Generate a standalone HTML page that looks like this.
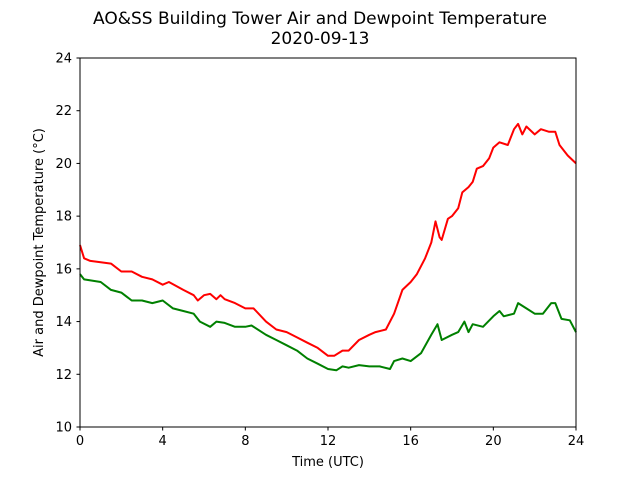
<!DOCTYPE html>
<html><head><meta charset="utf-8"><style>
body{margin:0;background:#fff;}
svg{display:block;font-family:"DejaVu Sans","Liberation Sans",sans-serif;}
</style></head><body>
<svg id="chart" width="640" height="480" viewBox="0 0 640 480" xmlns="http://www.w3.org/2000/svg">
<text x="320" y="24" font-size="17" text-anchor="middle">AO&amp;SS Building Tower Air and Dewpoint Temperature</text>
<text x="320" y="44" font-size="17" text-anchor="middle">2020-09-13</text>
<g id="ticks"></g>
<g id="series"></g>
<rect x="80" y="58" width="496" height="369" fill="none" stroke="#000" stroke-width="1"/>
<text x="328" y="466" font-size="13" text-anchor="middle">Time (UTC)</text>
<text transform="translate(43,242.5) rotate(-90)" font-size="13" text-anchor="middle">Air and Dewpoint Temperature (°C)</text>
</svg>
<script>
const xTicks=[0,4,8,12,16,20,24];
const yTicks=[10,12,14,16,18,20,22,24];
const airTimes=[0,0.2,0.5,1,1.5,2,2.5,3,3.5,4,4.3,5,5.5,5.7,6,6.3,6.6,6.8,7,7.5,8,8.4,9,9.5,10,10.5,11,11.5,12,12.3,12.7,13,13.5,14,14.3,14.8,15.2,15.6,16,16.3,16.7,17,17.2,17.4,17.5,17.8,18,18.3,18.5,18.8,19,19.2,19.5,19.8,20,20.3,20.7,21,21.2,21.4,21.6,22,22.3,22.7,23,23.2,23.6,24];
const airTemp=[16.9,16.4,16.3,16.25,16.2,15.9,15.9,15.7,15.6,15.4,15.5,15.2,15.0,14.8,15.0,15.05,14.85,15.0,14.85,14.7,14.5,14.5,14.0,13.7,13.6,13.4,13.2,13.0,12.7,12.7,12.9,12.9,13.3,13.5,13.6,13.7,14.3,15.2,15.5,15.8,16.4,17.0,17.8,17.2,17.1,17.9,18.0,18.3,18.9,19.1,19.3,19.8,19.9,20.2,20.6,20.8,20.7,21.3,21.5,21.1,21.4,21.1,21.3,21.2,21.2,20.7,20.3,20.0];
const dewTimes=[0,0.2,1,1.5,2,2.5,3,3.5,4,4.5,5,5.5,5.8,6.3,6.6,7,7.5,8,8.3,9,9.5,10,10.5,11,11.5,12,12.4,12.7,13,13.5,14,14.5,15,15.2,15.6,16,16.5,17,17.3,17.5,18,18.3,18.6,18.8,19,19.5,20,20.3,20.5,21,21.2,21.6,22,22.4,22.8,23,23.3,23.7,24];
const dewTemp=[15.8,15.6,15.5,15.2,15.1,14.8,14.8,14.7,14.8,14.5,14.4,14.3,14.0,13.8,14.0,13.95,13.8,13.8,13.85,13.5,13.3,13.1,12.9,12.6,12.4,12.2,12.15,12.3,12.25,12.35,12.3,12.3,12.2,12.5,12.6,12.5,12.8,13.5,13.9,13.3,13.5,13.6,14.0,13.6,13.9,13.8,14.2,14.4,14.2,14.3,14.7,14.5,14.3,14.3,14.7,14.7,14.1,14.05,13.6];
const X=t=>80+t*496/24;
const Y=v=>427-(v-10)*369/14;
const NS="http://www.w3.org/2000/svg";
const tg=document.getElementById('ticks');
xTicks.forEach(t=>{
 const l=document.createElementNS(NS,'line');
 
 
 l.setAttribute('x1',X(t));l.setAttribute('x2',X(t));l.setAttribute('y1',427);l.setAttribute('y2',430.5);l.setAttribute('stroke','#000');
 tg.appendChild(l);
 const tx=document.createElementNS(NS,'text');
 
 
 tx.setAttribute('x',X(t));tx.setAttribute('y',445);tx.setAttribute('font-size','13');tx.setAttribute('text-anchor','middle');
 tx.textContent=t;tg.appendChild(tx);
});
yTicks.forEach(v=>{
 const l=document.createElementNS(NS,'line');
 
 
 l.setAttribute('x1',76.5);l.setAttribute('x2',80);l.setAttribute('y1',Y(v));l.setAttribute('y2',Y(v));l.setAttribute('stroke','#000');
 tg.appendChild(l);
 const tx=document.createElementNS(NS,'text');
 
 
 tx.setAttribute('x',72);tx.setAttribute('y',Y(v)+4.5);tx.setAttribute('font-size','13');tx.setAttribute('text-anchor','end');
 tx.textContent=v;tg.appendChild(tx);
});
const sg=document.getElementById('series');
function line(ts,vs,color,name){
 const p=document.createElementNS(NS,'polyline');
 
 
 p.setAttribute('points',ts.map((t,i)=>X(t).toFixed(1)+','+Y(vs[i]).toFixed(1)).join(' '));
 p.setAttribute('fill','none');p.setAttribute('stroke',color);p.setAttribute('stroke-width','2');p.setAttribute('stroke-linejoin','round');
 sg.appendChild(p);
}
line(airTimes,airTemp,'#ff0000','air-temperature-line');
line(dewTimes,dewTemp,'#008000','dewpoint-temperature-line');
</script>
</body></html>
